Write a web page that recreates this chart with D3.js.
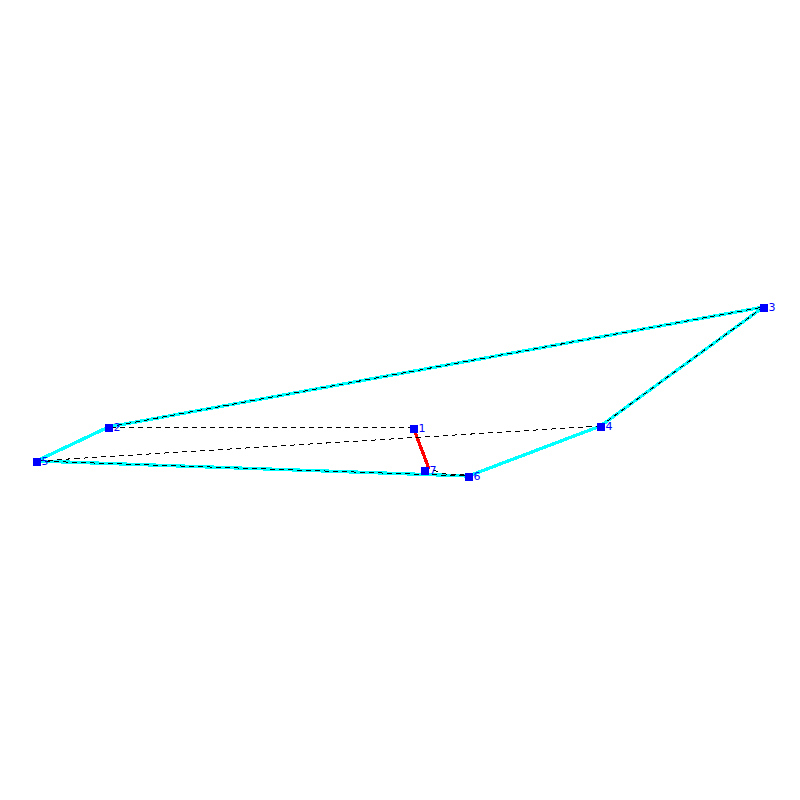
<!DOCTYPE html>
<html>
<head>
<meta charset="utf-8">
<script src="https://cdn.jsdelivr.net/npm/d3@7"></script>
<style>html,body{margin:0;padding:0;background:#fff}svg{display:block}</style>
</head>
<body>
<svg id="chart" width="800" height="800"></svg>
<script>
const nodeIds = [1, 2, 3, 4, 5, 6, 7];
const nodeX = [413.5, 108.5, 763.5, 600.5, 36.5, 468.5, 424.5];
const nodeY = [372, 373, 493, 374, 339, 324, 330];
const hullEdges = [[2,3],[3,4],[4,6],[6,5],[5,2]];
const dashedEdges = [[1,2],[2,3],[3,4],[4,5],[5,6]];
const redEndX = 429;
const redEndY = 331;
const wiggleX = [424.5, 436, 446, 456, 468.5];
const wiggleY = [330, 329, 326, 326, 324];

const x = d3.scaleLinear().domain([0,800]).range([0,800]);
const y = d3.scaleLinear().domain([0,800]).range([800,0]);
const px = id => x(nodeX[nodeIds.indexOf(id)]);
const py = id => y(nodeY[nodeIds.indexOf(id)]);
const svg = d3.select("#chart");

function drawEdges(edges, cls, stroke, width, dash) {
  svg.append("g").attr("class", cls).selectAll("line").data(edges).join("line")
    .attr("x1", d => px(d[0])).attr("y1", d => py(d[0]))
    .attr("x2", d => px(d[1])).attr("y2", d => py(d[1]))
    .attr("stroke", stroke).attr("stroke-width", width)
    .attr("stroke-dasharray", dash)
    .attr("shape-rendering", "crispEdges");
}
drawEdges(hullEdges, "hull", "#00ffff", 3.3, null);

svg.append("line").attr("class", "red")
  .attr("x1", px(1)).attr("y1", py(1))
  .attr("x2", x(redEndX)).attr("y2", y(redEndY))
  .attr("stroke", "#ff0000").attr("stroke-width", 3.3)
  .attr("shape-rendering", "crispEdges");

drawEdges(dashedEdges, "dashed", "#000000", 1, "5,4");

const wiggle = d3.line().curve(d3.curveMonotoneX).x(d => x(d[0])).y(d => y(d[1]));
svg.append("path")
  .attr("d", wiggle(wiggleX.map((v, i) => [v, wiggleY[i]])))
  .attr("fill", "none").attr("stroke", "#000").attr("stroke-width", 1)
  .attr("stroke-dasharray", "5,4").attr("shape-rendering", "crispEdges");

svg.append("g").selectAll("rect").data(nodeIds).join("rect")
  .attr("x", d => px(d) - 3.5).attr("y", d => py(d) - 3.5)
  .attr("width", 8).attr("height", 8).attr("fill", "#0000ff")
  .attr("shape-rendering", "crispEdges");

svg.append("g").selectAll("text").data(nodeIds).join("text")
  .attr("x", d => px(d) + 5).attr("y", d => py(d) + 4)
  .attr("fill", "#0000ff")
  .attr("font-family", "DejaVu Sans, sans-serif").attr("font-size", 11)
  .text(d => d);
</script>
</body>
</html>
